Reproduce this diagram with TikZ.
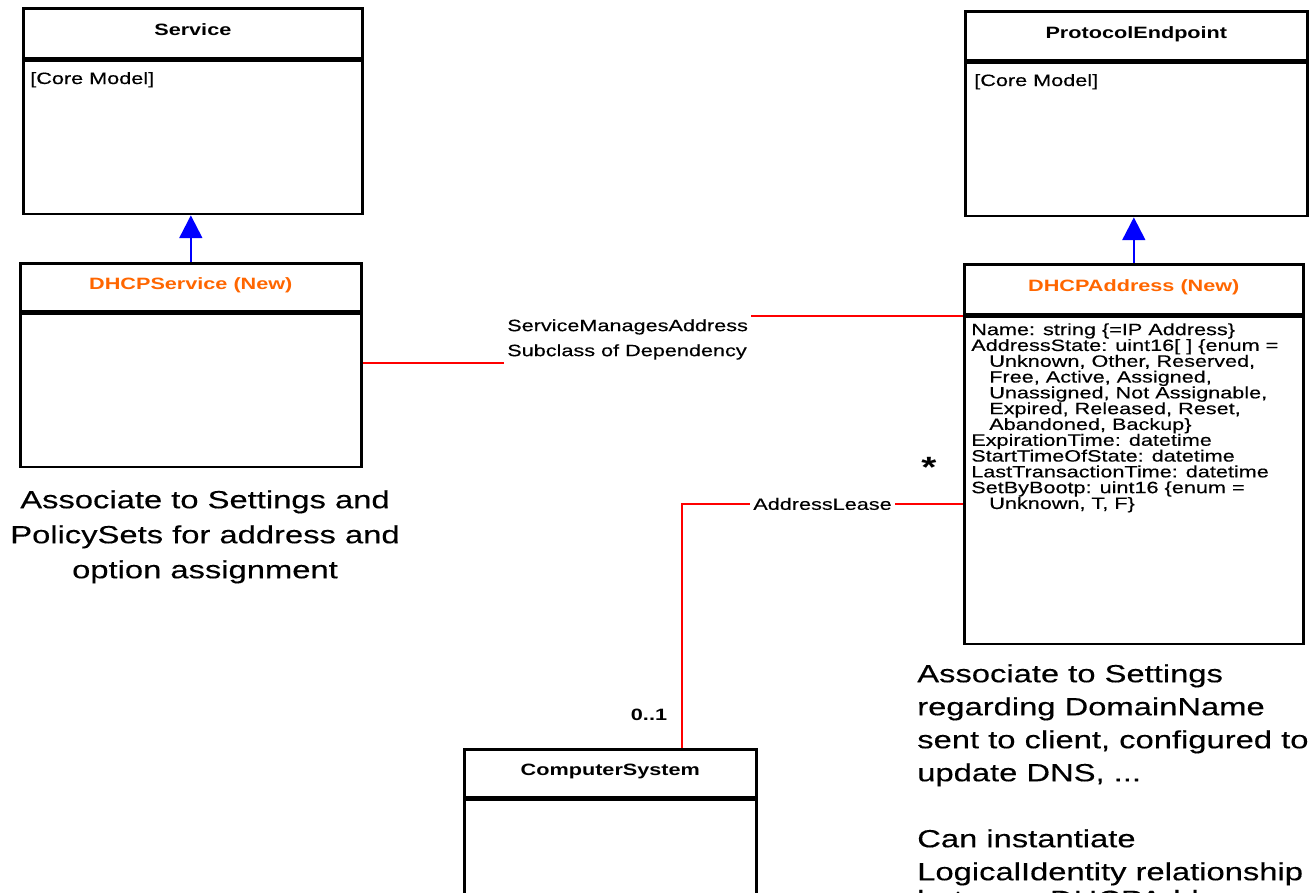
\documentclass[tikz,border=0pt]{standalone}
\usepackage{fontspec}
\setmainfont{Liberation Sans}[FakeStretch=1.32, UprightFeatures={FakeBold=0.3}]
\usetikzlibrary{arrows.meta,positioning}
\definecolor{newclass}{RGB}{255,102,0}

\begin{document}
\begin{tikzpicture}[x=0.75pt,y=-0.75pt]

	\tikzstyle class head=[draw, line width=2pt, inner sep=0pt, anchor=north west, text height=9.2pt, text depth=5.5pt, font=\fontsize{12.3}{14}\selectfont\bfseries];
	\tikzstyle class body=[draw, line width=2pt, inner sep=0pt];
	\tikzstyle class text=[inner sep=0pt, align=left, font=\fontsize{12.3}{11.85}\selectfont];
	\tikzstyle note text=[inner sep=0pt, font=\fontsize{18.6}{26.25}\selectfont];
	\tikzstyle assoc lines=[red, line width=1.5pt];
	\tikzstyle assoc label=[inner sep=2.25pt, align=left, font=\fontsize{12.3}{18.75}\selectfont];
	\tikzstyle inherit lines=[blue, line width=1.8pt, -{Triangle[width=17pt,length=17pt]}];

	\useasboundingbox (0,0) rectangle (1315,893);
	\clip (0,0) rectangle (1315,893);

	% core model
	\node[class head, minimum width=254.25pt, minimum height=37.5pt] (service) at (22,7) {Service};
	\node[class body, minimum width=254.25pt, minimum height=114.75pt, below=0pt of service] (serviceBody) {};
	\node[class text, anchor=base west] (serviceText) at (30,84) {[Core Model]};

	\node[class head, minimum width=256.5pt, minimum height=36.75pt] (endpoint) at (964,10) {ProtocolEndpoint};
	\node[class body, minimum width=256.5pt, minimum height=114.75pt, below=0pt of endpoint] (endpointBody) {};
	\node[class text, anchor=base west] (endpointText) at (974,86) {[Core Model]};

	% new classes
	\node[class head, text=newclass, minimum width=255.75pt, minimum height=36pt] (dhcpService) at (19,262) {DHCPService (New)};
	\node[class body, minimum width=255.75pt, minimum height=114.75pt, below=0pt of dhcpService] (dhcpServiceBody) {};

	\node[class head, text=newclass, minimum width=254.25pt, minimum height=37.5pt] (dhcpAddress) at (963,263) {DHCPAddress (New)};
	\node[class body, minimum width=254.25pt, minimum height=245.25pt, below=0pt of dhcpAddress] (dhcpAddressBody) {};
	\node[class text, anchor=north west] (dhcpAddressText) at (971,323) {Name: string \{=IP Address\}\\
		AddressState: uint16[ ] \{enum =\\
		\hspace*{13.5pt}Unknown, Other, Reserved,\\
		\hspace*{13.5pt}Free, Active, Assigned,\\
		\hspace*{13.5pt}Unassigned, Not Assignable,\\
		\hspace*{13.5pt}Expired, Released, Reset,\\
		\hspace*{13.5pt}Abandoned, Backup\}\\
		ExpirationTime: datetime\\
		StartTimeOfState: datetime\\
		LastTransactionTime: datetime\\
		SetByBootp: uint16 \{enum =\\
		\hspace*{13.5pt}Unknown, T, F\}};

	\node[class head, minimum width=219pt, minimum height=36pt] (computer) at (463,748) {ComputerSystem};
	\node[class body, minimum width=219pt, minimum height=120pt, below=0pt of computer] (computerBody) {};

	\foreach \child/\parent in {dhcpService/serviceBody, dhcpAddress/endpointBody}
		\draw[inherit lines] (\child.north) -- (\child.north |- \parent.south);

	% associations
	\node[assoc label, anchor=north west] (manages) at (504,316) {ServiceManagesAddress\\Subclass of Dependency};
	\draw[assoc lines] (dhcpServiceBody.east |- manages.south west) -- (manages.south west);
	\draw[assoc lines] (manages.north east) -- (dhcpAddressBody.west |- manages.north east);

	\draw[assoc lines] ([xshift=164.25pt]computer.north west) |- node[pos=0.75, fill=white, inner sep=2.25pt, text=black, font=\fontsize{12.3}{14}\selectfont] (lease) {AddressLease} ([yshift=-17.6pt]dhcpAddressBody.west);
	\node[font=\fontsize{22}{22}\selectfont\bfseries] (many) at (929,467) {*};
	\node[font=\fontsize{12.3}{14}\selectfont\bfseries] (optional) at (649,715) {0..1};

	% notes
	\node[note text, align=center, anchor=north] (serviceNote) at (205,490) {Associate to Settings and\\PolicySets for address and\\option assignment};
	\node[note text, align=left, anchor=north west, font=\fontsize{18.6}{24.75}\selectfont] (addressNote) at (917,664) {Associate to Settings\\regarding DomainName\\sent to client, configured to\\update DNS, ...\\[24.75pt]Can instantiate\\LogicalIdentity relationship\\[-4pt]between DHCPAddress and};

\end{tikzpicture}
\end{document}
